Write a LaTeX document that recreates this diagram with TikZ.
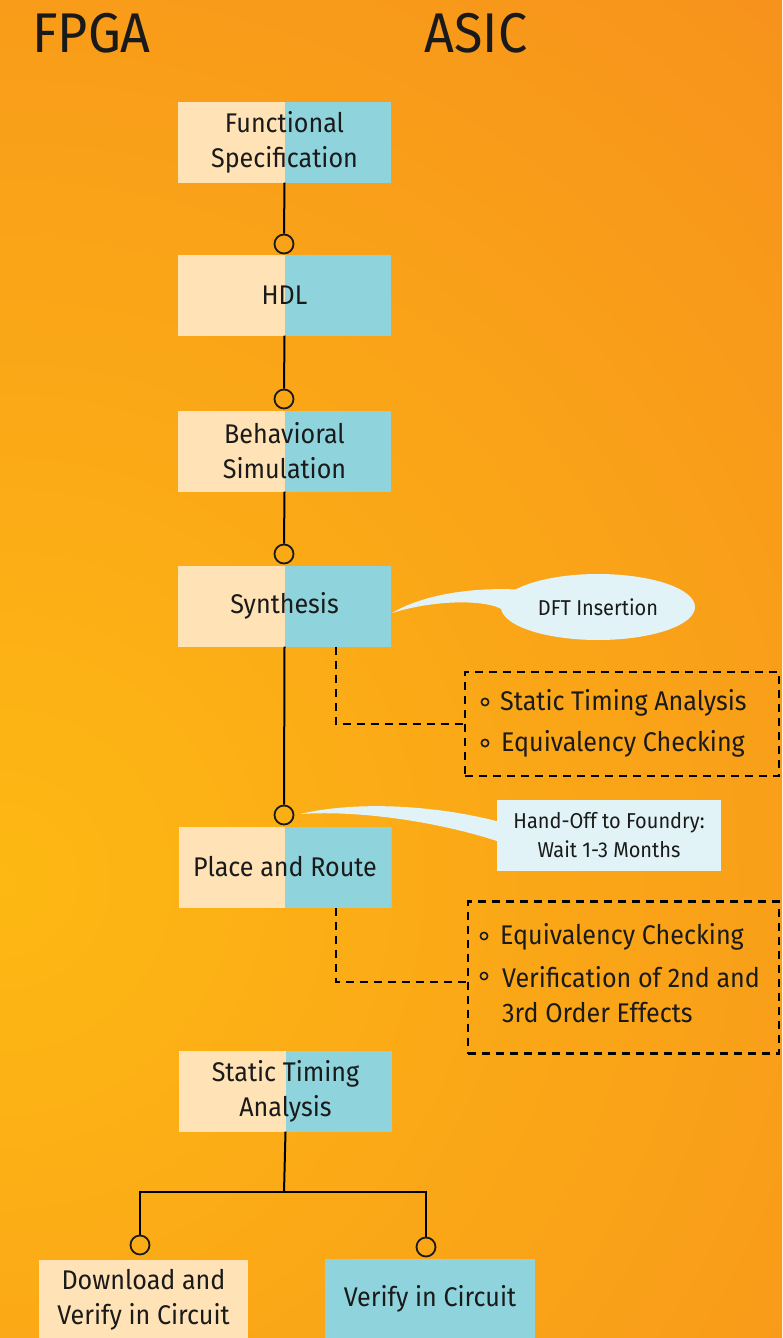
\documentclass[tikz,border=0pt]{standalone}
\usepackage{fontspec}
\setmainfont{Fira Sans}[FakeStretch=0.93]
\usetikzlibrary{shapes.geometric,calc}
\definecolor{pale}{HTML}{FFE2B6}
\definecolor{asiccol}{HTML}{8FD4DC}
\definecolor{calloutc}{HTML}{E1F3F6}
\definecolor{bgA}{HTML}{F5851F}
\definecolor{bgB}{HTML}{FDB813}
\definecolor{ink}{HTML}{1A1A1A}
\begin{document}
\begin{tikzpicture}[x=1pt,y=-1pt,
  every node/.style={text=ink},
  bodyfont/.style={font=\fontsize{27}{35}\selectfont},
  smallfont/.style={font=\fontsize{21.5}{29}\selectfont},
  titlefont/.style={font=\fontsize{56}{60}\selectfont},
  splitbox/.style={bodyfont, minimum width=213, minimum height=81, inner sep=0, align=center,
    path picture={
      \fill[pale] (path picture bounding box.south west) rectangle (path picture bounding box.north);
      \fill[asiccol] (path picture bounding box.south) rectangle (path picture bounding box.north east);
    }},
  fpgabox/.style={bodyfont, fill=pale, minimum width=209, minimum height=80, inner sep=0, align=center},
  asicbox/.style={bodyfont, fill=asiccol, minimum width=210, minimum height=80, inner sep=0, align=center},
  ring/.style={circle, draw=ink, line width=1.8pt, minimum size=19, inner sep=0},
  conn/.style={draw=black, line width=2pt},
  dashconn/.style={draw=black, line width=2.8pt, dash pattern=on 8pt off 6pt},
  dashbox/.style={draw=black, line width=2.8pt, dash pattern=on 8pt off 6pt, inner sep=0},
  bullet/.style={draw=ink, line width=1.6pt},
  item/.style={bodyfont, anchor=west, inner sep=0, align=left},
]
\useasboundingbox (0,0) rectangle (782,1338);
\begin{scope}
\clip (0,0) rectangle (782,1338);
\fill[bgA] (0,0) rectangle (782,1338);
\shade[inner color=bgB, outer color=bgA] (0,880) circle (1600pt);
\end{scope}

% titles
\node[titlefont, inner sep=0] (fpga) at (91.5,33) {FPGA};
\node[titlefont, inner sep=0] (asic) at (476,33) {ASIC};

% callout tails
\fill[calloutc] (392,613) .. controls (420,596) and (470,586) .. (525,590)
  -- (505,612) .. controls (495,600) and (440,598) .. cycle;
\fill[calloutc] (300,814) .. controls (360,800) and (440,806) .. (500,822)
  -- (500,842) .. controls (440,822) and (360,810) .. cycle;

% main boxes
\node[splitbox] (fs)  at (284.5,142)   {Functional\\Specification};
\node[splitbox] (hdl) at (284.5,295)   {HDL};
\node[splitbox] (bs)  at (284.5,451)   {Behavioral\\Simulation};
\node[splitbox] (syn) at (284.5,606)   {Synthesis};
\node[splitbox] (pr)  at (285,867)     {Place and Route};
\node[splitbox] (sta) at (285.5,1091)  {Static Timing\\Analysis};
\node[fpgabox]  (dl)  at (143.5,1300)  {Download and\\Verify in Circuit};
\node[asicbox]  (vc)  at (430,1299)    {Verify in Circuit};

% rings
\node[ring] (c1) at (284,244) {};
\node[ring] (c2) at (284,399) {};
\node[ring] (c3) at (284,554) {};
\node[ring] (c4) at (284,815) {};
\node[ring] (c5) at (140,1245) {};
\node[ring] (c6) at (426,1247) {};
\coordinate (j) at (284,1192);

% connectors
\draw[conn] (fs.south) -- (c1.north);
\draw[conn] (hdl.south) -- (c2.north);
\draw[conn] (bs.south) -- (c3.north);
\draw[conn] (syn.south) -- (c4.north);
\draw[conn] (sta.south) -- (j);
\draw[conn] (c5.north) |- (j) -| (c6.north);

% callouts
\node[smallfont, ellipse, fill=calloutc, minimum width=194, minimum height=66, inner sep=0] (dft) at (598,607) {DFT Insertion};
\node[smallfont, fill=calloutc, minimum width=224, minimum height=71, inner sep=0, align=center] (ho) at (609,835.5) {Hand-Off to Foundry:\\Wait 1-3 Months};

% dashed boxes
\node[dashbox, minimum width=314, minimum height=104] (b1) at (622,724) {};
\node[dashbox, minimum width=311, minimum height=152] (b2) at (623.5,977.5) {};
\draw[dashconn] ($(syn.south)+(51.5,0)$) |- (b1.west);
\draw[dashconn] ($(pr.south)+(51,0)$) |- ($(b2.west)+(0,4.5)$);

% items
\draw[bullet] (485,702) circle (3.6pt);
\node[item] (i1) at (500,703) {Static Timing Analysis};
\draw[bullet] (485,743) circle (3.6pt);
\node[item] (i2) at (501,744) {Equivalency Checking};
\draw[bullet] (484,936) circle (3.6pt);
\node[item] (i3) at (500,937) {Equivalency Checking};
\draw[bullet] (484,976) circle (3.6pt);
\node[item] (i4) at (502,995) {Verification of 2nd and\\3rd Order Effects};
\end{tikzpicture}
\end{document}
